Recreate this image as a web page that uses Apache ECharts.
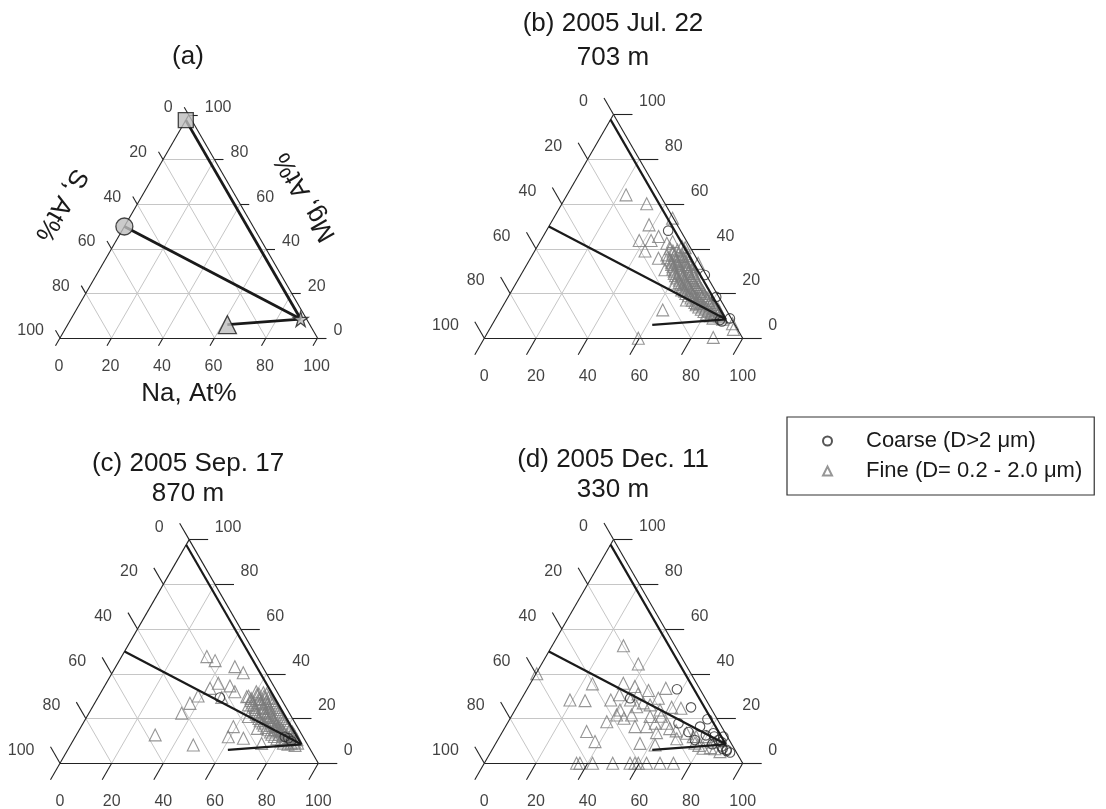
<!DOCTYPE html>
<html><head><meta charset="utf-8">
<script src="https://cdn.jsdelivr.net/npm/echarts@6/dist/echarts.min.js"></script>
<style>html,body{margin:0;padding:0;background:#fff}#c{width:1106px;height:809px}</style>
</head><body><div id="c"></div>
<script>
// ---- data: compositions as [Na, Mg] in At% (S = 100 - Na - Mg) ----
const tickValues = [0, 20, 40, 60, 80, 100];
const gridValues = [20, 40, 60, 80];
const seawater = [89.2, 8.5];
const mgCl2 = [0, 97.7];
const mgSO4 = [0, 50];
const naSO4End = [62, 6];
const panelTitles = ['(a)', '(b) 2005 Jul. 22', '(c) 2005 Sep. 17', '(d) 2005 Dec. 11'];
const panelDepths = ['', '703 m', '870 m', '330 m'];
const axisNames = ['Na, At%', 'S, At%', 'Mg, At%'];
const COARSE = 'Coarse (D>2 \u03bcm)';
const FINE = 'Fine (D= 0.2 - 2.0 \u03bcm)';

const fineB = [
 [22.8,64.1],[32.8,60.1],[46,53.7],[38.4,50.7],[44.7,45.5],[38.1,43.7],[42.7,43.7],[49.4,42.5],[42.7,39.0],[51.3,43.2],
 [49.5,35.8],[52.0,37.3],[54.6,30.6],[61.5,24.6],[62.7,12.7],[59.6,0],[88.4,0.4],[94.4,4.0],[92.8,6.5],[69.7,17.1],
 [74.4,15.6],[65.6,21.6],[66.0,33.5],
 [52,40],[55,39.5],[57.5,40.5],[54,38],[56.5,37.5],[59,38],[53,36],[56,35.5],[58.5,36.5],[61,35.5],
 [55.5,34],[58,33.5],[60.5,34.5],[63,33],[57,32],[60,31.5],[62.5,32],[65,31],[58.5,30],[61,29.5],
 [64,30],[66.5,29],[60,28],[63,27.5],[65.5,28],[68,27],[62.5,26],[65,25.5],[67.5,26],[70,25],
 [64,24],[67,23.5],[69.5,24],[72,23],[66.5,22],[69,21.5],[71.5,22],[74,21],[68,20],[71,19.5],
 [73.5,20],[76,19],[71,18],[74,17.5],[77,18],[79,17],[73.5,16],[76.5,15.5],[79,16],[81,15],
 [76,14],[79,13.5],[82,14],[84,13],[79,12],[82,11.5],[85,12],[82.5,10],[85,10.5],[87,9.5],
 [53.5,39],[56,41],[58,39],[55,37],[57.5,36.5],[60,37],[54.5,35],[57,34.5],[59.5,35],[62,34],
 [56,33],[59,32.5],[61.5,33],[64,32],[57.5,31],[60.5,30.5],[63,31],[65.5,30],[59,29],[62,28.5],
 [64.5,29],[67,28],[61,27],[64,26.5],[66.5,27],[69,26],[63,25],[66,24.5],[68.5,25],[71,24],
 [65,23],[68,22.5],[70.5,23],[73,22],[67,21],[70,20.5],[72.5,21],[75,20],[69.5,19],[72.5,18.5],
 [75,19],[77.5,18],[72,17],[75,16.5],[78,17],[80,16],[74.5,15],[77.5,14.5],[80,15],[82.5,14],
 [77.5,13],[80.5,12.5],[83,13],[85,11],[80.5,11],[83.5,10.5],[86,10],[84,9],[88,8.5]
];
const coarseB = [[47.1,48.1],[71.2,28.3],[80.5,18.5],[88.2,7.5],[90.6,8.9],[87.1,8.2]];

const fineC = [
 [33.0,47.7],[37.1,45.9],[46.1,43.2],[50.7,40.5],[43.4,35.8],[41.3,33.5],[48.5,34.6],[51.7,32.0],[38.4,30.1],[36.9,26.8],
 [35.9,22.4],[47.9,29.4],[57.4,29.8],[59.9,26.1],[58.9,16.4],[59.2,11.9],[65.4,11.2],[68.6,15.6],[73.6,8.9],[75.7,14.9],
 [30.5,12.7],[47.5,8.2],[62.5,20.9],
 [60,32],[63,31.5],[58,30],[61,30.5],[64,30],[66,29.5],[60,28],[63,28.5],[66,27.5],[68,28],
 [62,26],[65,26.5],[68,25.5],[70,26],[63.5,24],[66.5,24.5],[69,23.5],[72,24],[65,22],[68,22.5],
 [71,21.5],[74,22],[67,20],[70,20.5],[73,19.5],[76,20],[69.5,18],[72.5,18.5],[75,17.5],[78,18],
 [72,16],[75,16.5],[78,15.5],[80,16],[74.5,14],[77.5,14.5],[80,13.5],[83,14],[77,12],[80,12.5],
 [83,11.5],[85,12],[80.5,10],[83.5,10.5],[86,9.5],[84,8.5],[87,8],
 [61.5,31],[64.5,31],[59.5,29],[62.5,29],[65,29],[67,29],[61,27],[64,27],[67,26.5],[69,27],
 [63,25],[66,25],[69,24.5],[71,25],[64,23],[67,23],[70,22.5],[73,23],[66,21],[69,21],
 [72,20.5],[75,21],[68,19],[71,19],[74,18.5],[77,19],[70.5,17],[73.5,17],[76.5,16.5],[79,17],
 [73,15],[76,15],[79,14.5],[81.5,15],[75.5,13],[78.5,13],[81.5,12.5],[84,13],[78.5,11],[81.5,11],
 [84.5,11],[86.5,10.5],[82,9],[85,9],[87.5,9]
];
const coarseC = [[81.1,11.9],[82.8,11.2],[84.5,10],[47.2,29.4]];

const fineD = [
 [27.6,52.5],[37.4,44.4],[0.3,40],[24.1,35.5],[19.0,28.3],[25.0,28.0],[34.8,28.3],[37.0,30.6],[35.9,35.8],[41.1,34.3],
 [47.3,32.5],[53.5,33.5],[52.8,29.1],[42.4,28.3],[46.3,25.3],[51.1,26.1],[56.1,23.8],[63.8,24.6],[40.4,21.6],[38.1,18.6],
 [44.0,20.1],[50.1,16.4],[54.6,16.4],[57.2,17.9],[59.8,13.7],[61.7,17.9],[32.5,14.2],[38.0,9.7],[55.8,8.9],[62.0,8.2],
 [35.7,0],[37.0,0],[41.9,0],[49.7,0],[56.4,0],[58.3,0],[59.6,0],[62.8,0],[68.0,0],[73.2,0],
 [71.6,13.4],[74.9,11.9],[81.4,6.7],[80.1,11.9],[88.6,5.2],[77,9],[79,8],[84,7],[86,6.5],[83,9.5],
 [76,12],[69,11],[67,14.5],[64,15.5],[40.6,23.8],[46.2,21.6],[53.7,20.9],[48,27],[44,31],[58,21],[60,25]
];
const coarseD = [
 [58.0,33.1],[67.5,25.0],[66.2,17.9],[76.5,19.7],[75.3,16.4],[76.3,10.4],[81.9,13.4],[85.4,10.4],[88.1,7.5],[92.7,4.8],
 [90.8,6.0],[86.6,11.9],[41.9,29.1],[83,12],[84,8.5],[87,9.5],[89,6.5],[91,5.5],[79.5,12.5],[72,14]
];

// ---- layout ----
const FONT = '"Liberation Sans", Arial, Helvetica, sans-serif';
const K = Math.sqrt(3) / 2;
function tern(p) { return [p[0] + p[1] / 2, p[1] * K]; }
const layouts = [
 {left:60,    base:338,   w:257.5, tick:9,  lx:16,   ly:7,    bx:-1, by:29,   mix:2.8},
 {left:484.3, base:338.3, w:258.4, tick:19, lx:25.5, ly:12.5, bx:0,  by:38.4, mix:2.2},
 {left:60,    base:763.3, w:258.3, tick:19, lx:25.5, ly:12.5, bx:0,  by:38.4, mix:2.2},
 {left:484.3, base:763.3, w:258.4, tick:19, lx:25.5, ly:12.5, bx:0,  by:38.4, mix:2.2}
];
const titlePos = [[188, 57, null], [613, 24, 58], [188, 464, 494], [613, 460, 490]];
const fineSets = [null, fineB, fineC, fineD];
const coarseSets = [null, coarseB, coarseC, coarseD];

const grids = [], xAxes = [], yAxes = [], series = [];
function linesSeries(i, segs, color, width, z) {
  return {type:'lines', coordinateSystem:'cartesian2d', xAxisIndex:i, yAxisIndex:i, polyline:false,
    clip:false, silent:true, z:z, effect:{show:false},
    lineStyle:{color:color, width:width, opacity:1},
    data: segs.map(s => ({coords:s}))};
}
function labelSeries(i, pts, names, align, offset) {
  return {type:'scatter', xAxisIndex:i, yAxisIndex:i, symbolSize:1, clip:false, silent:true, z:6,
    itemStyle:{color:'rgba(0,0,0,0)'},
    data: pts.map((p, k) => ({value:p, name:names[k]})),
    label:{show:true, formatter:'{b}', position:'inside', align:align, verticalAlign:'middle',
      offset:offset, fontSize:16, color:'#111', fontFamily:FONT}};
}
layouts.forEach((L, i) => {
  const h = L.w * K;
  grids.push({left:L.left, top:L.base - h, width:L.w, height:h});
  xAxes.push({gridIndex:i, type:'value', min:0, max:100, show:false});
  yAxes.push({gridIndex:i, type:'value', min:0, max:100 * K, show:false});
  const gl = [];
  gridValues.forEach(g => {
    gl.push([tern([0, g]), tern([100 - g, g])]);
    gl.push([tern([g, 0]), tern([g, 100 - g])]);
    gl.push([tern([100 - g, 0]), tern([0, 100 - g])]);
  });
  series.push(linesSeries(i, gl, '#c6c6c6', 1, 1));
  series.push(linesSeries(i, [[tern([0,0]), tern([100,0])], [tern([100,0]), tern([0,100])], [tern([0,100]), tern([0,0])]], '#222', 1.1, 4));
  const t = L.tick * 100 / L.w;
  const ticks = [];
  const leftPts = [], rightPts = [], botPts = [];
  tickValues.forEach(v => {
    const a = tern([0, 100 - v]); leftPts.push(a);
    ticks.push([a, [a[0] - 0.5 * t, a[1] + K * t]]);
    const b = tern([100 - v, v]); rightPts.push(b);
    ticks.push([b, [b[0] + t, b[1]]]);
    const c = tern([v, 0]); botPts.push(c);
    ticks.push([c, [c[0] - 0.5 * t, c[1] - K * t]]);
  });
  series.push(linesSeries(i, ticks, '#222', 1.1, 4));
  const names = tickValues.map(String);
  series.push(labelSeries(i, leftPts, names, 'right', [-L.lx, -L.ly]));
  series.push(labelSeries(i, rightPts, names, 'left', [L.lx, -L.ly]));
  series.push(labelSeries(i, botPts, names, 'center', [L.bx, L.by]));
  if (fineSets[i]) {
    series.push({type:'scatter', name:FINE, xAxisIndex:i, yAxisIndex:i, symbol:'triangle', symbolSize:12,
      clip:false, silent:true, z:3, itemStyle:{color:'rgba(255,255,255,0)', borderColor:'#7c7c7c', borderWidth:1.1},
      data: fineSets[i].map(tern)});
    series.push({type:'scatter', name:COARSE, xAxisIndex:i, yAxisIndex:i, symbol:'circle', symbolSize:9.5,
      clip:false, silent:true, z:3, itemStyle:{color:'rgba(255,255,255,0)', borderColor:'#2a2a2a', borderWidth:1.1},
      data: coarseSets[i].map(tern)});
  }
  const sw = tern(seawater);
  series.push(linesSeries(i, [[sw, tern(mgCl2)], [sw, tern(mgSO4)], [sw, tern(naSO4End)]], '#1a1a1a', L.mix, 5));
});
// end members in panel (a)
const emStyle = {color:'#bdbdbd', borderColor:'#1a1a1a', borderWidth:1.3};
[[mgCl2, 'rect', 15], [mgSO4, 'circle', 17], [naSO4End, 'triangle', 18],
 [seawater, 'path://M50,0 L61,35 L98,35 L68,57 L79,91 L50,70 L21,91 L32,57 L2,35 L39,35 Z', 15]].forEach(m => {
  series.push({type:'scatter', xAxisIndex:0, yAxisIndex:0, symbol:m[1], symbolSize:m[2], clip:false, silent:true,
    z:7, itemStyle:emStyle, data:[tern(m[0])]});
});

const graphic = [];
function txt(x, y, s, size, rot) {
  graphic.push({type:'text', x:x, y:y, rotation:rot || 0, silent:true,
    style:{text:s, fontSize:size, fontFamily:FONT, fill:'#1a1a1a', align:'center', verticalAlign:'middle',
      textAlign:'center', textVerticalAlign:'middle'}});
}
titlePos.forEach((p, i) => {
  txt(p[0], p[1], panelTitles[i], 26);
  if (p[2] != null) txt(p[0], p[2], panelDepths[i], 26);
});
txt(189, 394, axisNames[0], 26, 0);
txt(61, 205, axisNames[1], 26, -2 * Math.PI / 3);
txt(305, 197, axisNames[2], 26, 2 * Math.PI / 3);

const chart = echarts.init(document.getElementById('c'), null, {renderer:'canvas'});
chart.setOption({
  animation:false,
  backgroundColor:'#fff',
  grid:grids, xAxis:xAxes, yAxis:yAxes, series:series, graphic:graphic,
  legend:{data:[{name:COARSE, icon:'circle'}, {name:FINE, icon:'triangle'}], orient:'vertical',
    left:787, top:417, itemWidth:9, itemHeight:9, itemGap:8, padding:[13,12,13,35],
    borderColor:'#333', borderWidth:1.2, selectedMode:false,
    textStyle:{fontSize:22, lineHeight:22, padding:[0,0,0,29], color:'#1a1a1a', fontFamily:FONT}}
});
</script></body></html>
